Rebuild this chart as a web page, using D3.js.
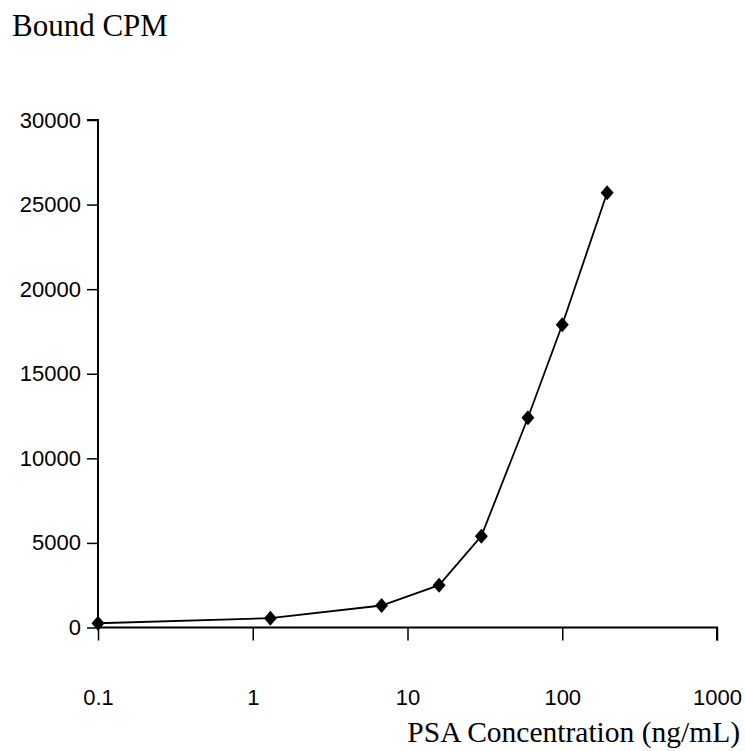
<!DOCTYPE html>
<html><head><meta charset="utf-8">
<script src="https://cdn.jsdelivr.net/npm/d3@7"></script>
<style>
body{margin:0;background:#fff;}
svg{display:block;}
</style></head>
<body>
<svg id="chart" width="745" height="751"></svg>
<script>
const concentrations = [0.1, 1.3, 6.8, 16, 30, 60, 100, 195];
const boundCPM = [250, 550, 1300, 2500, 5400, 12400, 17900, 25700];
const xTicks = [0.1, 1, 10, 100, 1000];
const xTickLabels = ["0.1", "1", "10", "100", "1000"];
const yTicks = [0, 5000, 10000, 15000, 20000, 25000, 30000];
const yTitle = "Bound CPM";
const xTitle = "PSA Concentration (ng/mL)";

const svg = d3.select("#chart");
const x = d3.scaleLog().domain([0.1, 1000]).range([98, 717]);
const y = d3.scaleLinear().domain([0, 30000]).range([627.5, 120]);

const tickFont = "'Liberation Sans',Arial,sans-serif";
const serif = "'Liberation Serif','Times New Roman',serif";

// y axis
const yAxis = d3.axisLeft(y).tickValues(yTicks).tickSize(11).tickPadding(6).tickFormat(d3.format("d"));
const gy = svg.append("g").attr("transform", `translate(${x(0.1)},0)`).call(yAxis);
gy.select(".domain").attr("stroke", "#000").attr("stroke-width", 2).attr("d", `M-11,${y(30000)}H0V${y(0)}`);
gy.selectAll(".tick line").attr("stroke", "#000").attr("stroke-width", 1.5);
gy.selectAll(".tick text").attr("font-family", tickFont).attr("font-size", 22).attr("fill", "#000");

// x axis
const xAxis = d3.axisBottom(x).tickValues(xTicks).tickSize(13).tickPadding(0).tickFormat((d, i) => xTickLabels[i]);
const gx = svg.append("g").attr("transform", `translate(0,${y(0)})`).call(xAxis);
gx.select(".domain").attr("stroke", "#000").attr("stroke-width", 2).attr("d", `M${x(0.1)},0H${x(1000)}V13`);
gx.selectAll(".tick line").attr("stroke", "#000").attr("stroke-width", 1.5);
gx.selectAll(".tick text").attr("font-family", tickFont).attr("font-size", 22).attr("fill", "#000")
  .attr("dy", null).attr("y", 77);

// line
const data = concentrations.map((c, i) => ({c, v: boundCPM[i]}));
svg.append("path").datum(data)
  .attr("fill", "none").attr("stroke", "#000").attr("stroke-width", 1.8)
  .attr("d", d3.line().x(d => x(d.c)).y(d => y(d.v)));

// markers
svg.append("g").selectAll("path").data(data).join("path")
  .attr("transform", d => `translate(${x(d.c)},${y(d.v)})`)
  .attr("d", "M0,-7.5L6.5,0L0,7.5L-6.5,0Z")
  .attr("fill", "#000");

// titles
svg.append("text").attr("x", 12).attr("y", 36).attr("font-family", serif).attr("font-size", 31).attr("fill", "#000").text(yTitle);
svg.append("text").attr("x", 740).attr("y", 742).attr("text-anchor", "end").attr("font-family", serif).attr("font-size", 29.5).attr("fill", "#000").text(xTitle);
</script>
</body></html>
